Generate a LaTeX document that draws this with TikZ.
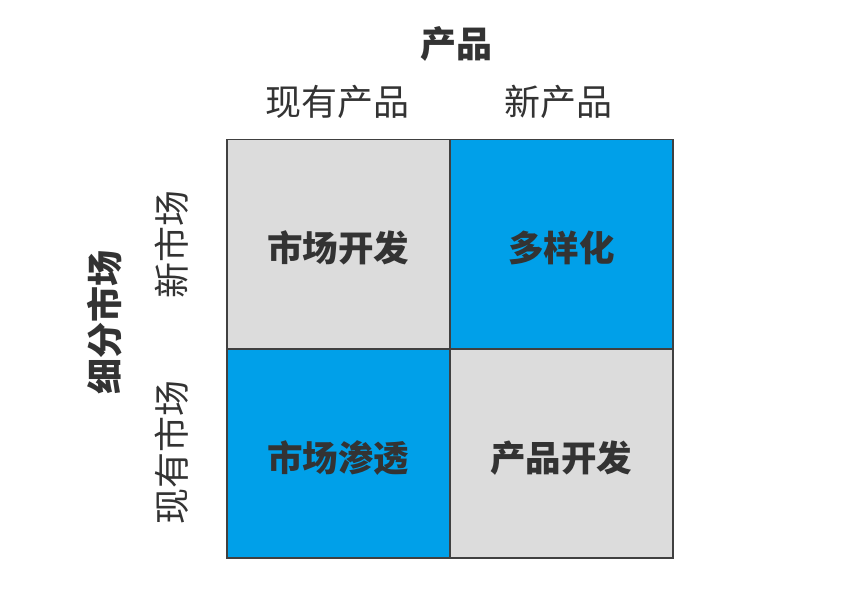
\documentclass[tikz,border=0pt]{standalone}
\usepackage{fontspec}
\newfontfamily\cjk{Noto Sans CJK SC}
\definecolor{cellblue}{HTML}{00A0E9}
\definecolor{cellgray}{HTML}{DCDCDC}
\definecolor{edge}{HTML}{404040}
\definecolor{ink}{HTML}{333333}
\begin{document}
\begin{tikzpicture}[x=1pt,y=-1pt,
  cell/.style={draw=edge,line width=1.5pt,minimum width=223pt,minimum height=209pt,inner sep=0pt,anchor=north west},
  celltext/.style={text=ink,font=\cjk\bfseries\fontsize{35.5}{40}\selectfont},
  axistitle/.style={text=ink,font=\cjk\bfseries\fontsize{36}{40}\selectfont},
  axislabel/.style={text=ink,font=\cjk\fontsize{36}{40}\selectfont}]
\useasboundingbox (0,0) rectangle (865,591);
\fill[white] (0,0) rectangle (865,591);
\node[cell,fill=cellgray] (c11) at (226,139) {};
\node[cell,fill=cellblue] (c12) at (449,139) {};
\node[cell,fill=cellblue] (c21) at (226,348) {};
\node[cell,fill=cellgray] (c22) at (449,348) {};
\node[celltext] (t11) at ([yshift=-4pt]c11.center) {市场开发};
\node[celltext] (t12) at ([yshift=-4pt]c12.center) {多样化};
\node[celltext] (t21) at ([yshift=-5pt]c21.center) {市场渗透};
\node[celltext] (t22) at ([yshift=-5pt]c22.center) {产品开发};
\node[axistitle] (ptitle) at (456,44) {产品};
\node[axislabel] (p1) at (337,102) {现有产品};
\node[axislabel] (p2) at (558,102) {新产品};
\node[axistitle,rotate=90] (mtitle) at (105,322) {细分市场};
\node[axislabel,rotate=90] (m1) at (172,244) {新市场};
\node[axislabel,rotate=90] (m2) at (172,452) {现有市场};
\end{tikzpicture}
\end{document}
